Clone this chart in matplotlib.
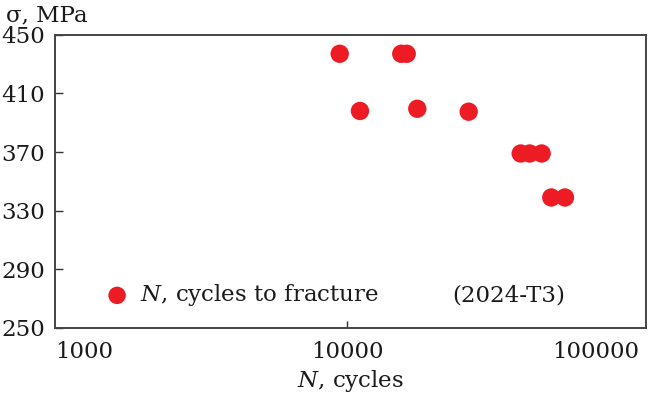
import matplotlib
matplotlib.use("Agg")
import matplotlib.pyplot as plt
from matplotlib.ticker import FixedLocator, NullLocator

plt.rcParams['font.family'] = ['DejaVu Serif']
plt.rcParams['mathtext.fontset'] = 'dejavuserif'

# Fatigue test results, 2024-T3
cycles = [9420, 15300, 15970, 11050, 17360, 26020, 39200, 42070, 46240, 49880, 55550]
stress = [437, 437, 437, 398, 399.5, 397.5, 369, 369, 369, 339, 339]

x_ticks = [1000, 10000, 100000]
x_tick_labels = ["1000", "10000", "100000"]
y_ticks = [250, 290, 330, 370, 410, 450]
y_tick_labels = ["250", "290", "330", "370", "410", "450"]

FS = 16.5

fig = plt.figure(figsize=(6.51, 3.99), dpi=100)
ax = fig.add_axes([55 / 651, 1 - 328 / 399, (646 - 55) / 651, (328 - 34.7) / 399])

ax.scatter(cycles, stress, s=175, color="#ED1C24", edgecolors="none",
           label=r"$N$, cycles to fracture", zorder=3)

ax.set_xscale("log")
ax.set_xlim(1000, 105200)
ax.set_ylim(250, 450)

ax.xaxis.set_major_locator(FixedLocator(x_ticks))
ax.xaxis.set_minor_locator(NullLocator())
ax.set_xticks(x_ticks)
ax.set_xticklabels(x_tick_labels)
ax.set_yticks(y_ticks)
ax.set_yticklabels(y_tick_labels)

labs = ax.get_xticklabels()
labs[0].set_horizontalalignment("left")
labs[-1].set_horizontalalignment("right")

ax.tick_params(axis="both", direction="in", labelsize=FS, colors="#333333",
               labelcolor="#1a1a1a", width=1.0)
ax.tick_params(axis="y", length=6, pad=7)
ax.tick_params(axis="x", length=5, pad=9)

# only the middle decade carries a visible tick mark
xt = ax.xaxis.get_major_ticks()
for i in (0, -1):
    xt[i].tick1line.set_visible(False)

for sp in ax.spines.values():
    sp.set_color("#444444")
    sp.set_linewidth(1.4)

ax.set_xlabel(r"$N$, cycles", fontsize=FS, color="#1a1a1a", labelpad=4)
fig.text(6 / 651, 1 - 15 / 399, "σ, MPa", fontsize=FS, color="#1a1a1a",
         ha="left", va="center")

leg = ax.legend(loc="lower left", bbox_to_anchor=(0.043, 0.02), frameon=False,
                fontsize=FS, handletextpad=0.0, borderaxespad=0.2,
                scatterpoints=1, markerscale=0.95)
for t in leg.get_texts():
    t.set_color("#1a1a1a")
ax.text(0.672, 0.11, "(2024-T3)", transform=ax.transAxes, fontsize=FS,
        color="#1a1a1a", ha="left", va="center")

fig.savefig("out.png", dpi=100)
